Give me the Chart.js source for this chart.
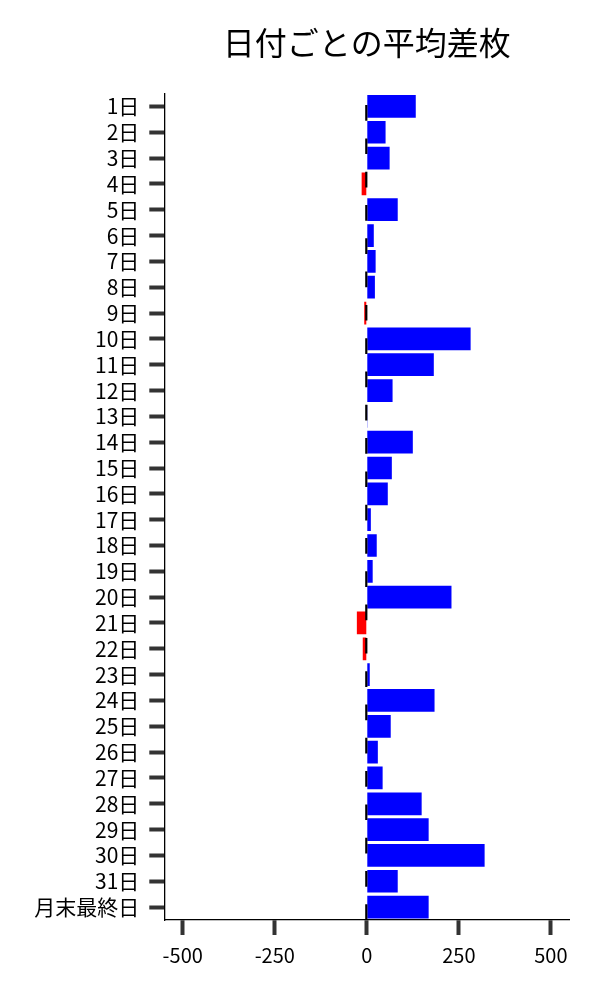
<!DOCTYPE html>
<html>
<head>
<meta charset="utf-8">
<script src="https://cdn.jsdelivr.net/npm/chart.js@4"></script>
<style>
	html, body { margin: 0; padding: 0; background: #fff; }
	#grafico { display: block; }
</style>
</head>
<body>
<canvas id="grafico" width="600" height="1000"></canvas>
<script>
const titulo = '日付ごとの平均差枚';
const dias = ['1日', '2日', '3日', '4日', '5日', '6日', '7日', '8日', '9日', '10日',
	'11日', '12日', '13日', '14日', '15日', '16日', '17日', '18日', '19日', '20日',
	'21日', '22日', '23日', '24日', '25日', '26日', '27日', '28日', '29日', '30日',
	'31日', '月末最終日'];
const mediaDiferenca = [133, 51, 62, -14, 84, 19, 24, 22, -7, 282,
	182, 70, 2, 125, 68, 57, 11, 27, 16, 230,
	-27, -11, 8, 184, 65, 30, 43, 149, 168, 320,
	84, 168];
const ticksX = [-500, -250, 0, 250, 500];

const fonte = '"Noto Sans CJK JP", "Noto Sans", sans-serif';

// title centered over the plot area, not the whole canvas
const tituloPlugin = {
	id: 'tituloPlugin',
	afterDraw(chart) {
		const { ctx, chartArea } = chart;
		ctx.save();
		ctx.font = '32px ' + fonte;
		ctx.fillStyle = '#000';
		ctx.textAlign = 'center';
		ctx.textBaseline = 'middle';
		ctx.fillText(titulo, (chartArea.left + chartArea.right) / 2, 43);
		ctx.restore();
	},
};

// dashed zero line, drawn from the bottom up
const linhaZero = {
	id: 'linhaZero',
	afterDatasetsDraw(chart) {
		const { ctx, chartArea, scales } = chart;
		const x0 = scales.x.getPixelForValue(0) - 0.5;
		ctx.save();
		ctx.strokeStyle = '#000';
		ctx.lineWidth = 2.2;
		ctx.setLineDash([15.7, 17.6]);
		ctx.beginPath();
		ctx.moveTo(x0, chartArea.bottom);
		ctx.lineTo(x0, chartArea.top);
		ctx.stroke();
		ctx.restore();
	},
};

new Chart(document.getElementById('grafico'), {
	type: 'bar',
	data: {
		labels: dias,
		datasets: [
			{
				data: mediaDiferenca,
				backgroundColor: (c) => (c.raw < 0 ? '#ff0000' : '#0000ff'),
				borderWidth: 0,
				barPercentage: 0.88,
				categoryPercentage: 1,
			},
		],
	},
	options: {
		indexAxis: 'y',
		responsive: false,
		animation: false,
		devicePixelRatio: 1,
		layout: {
			padding: { top: 93.5, right: 30.7, bottom: 0, left: 0 },
		},
		plugins: {
			legend: { display: false },
			tooltip: { enabled: false },
			title: { display: false },
		},
		scales: {
			x: {
				min: -550,
				max: 550,
				afterBuildTicks: (scale) => {
					scale.ticks = ticksX.map((v) => ({ value: v }));
				},
				afterFit: (scale) => {
					scale.height = 80;
				},
				border: { display: true, color: '#000', width: 1.3 },
				grid: {
					drawOnChartArea: false,
					drawTicks: true,
					tickLength: 15,
					tickWidth: 4,
					tickColor: '#333',
				},
				ticks: {
					color: '#000',
					padding: 8,
					maxRotation: 0,
					font: { family: fonte, size: 20 },
				},
			},
			y: {
				afterFit: (scale) => {
					scale.width = 164.3;
				},
				border: { display: true, color: '#000', width: 1.3 },
				grid: {
					offset: false,
					drawOnChartArea: false,
					drawTicks: true,
					tickLength: 15,
					tickWidth: 4,
					tickColor: '#333',
				},
				ticks: {
					color: '#000',
					padding: 10,
					autoSkip: false,
					font: { family: fonte, size: 21 },
				},
			},
		},
	},
	plugins: [tituloPlugin, linhaZero],
});
</script>
</body>
</html>
